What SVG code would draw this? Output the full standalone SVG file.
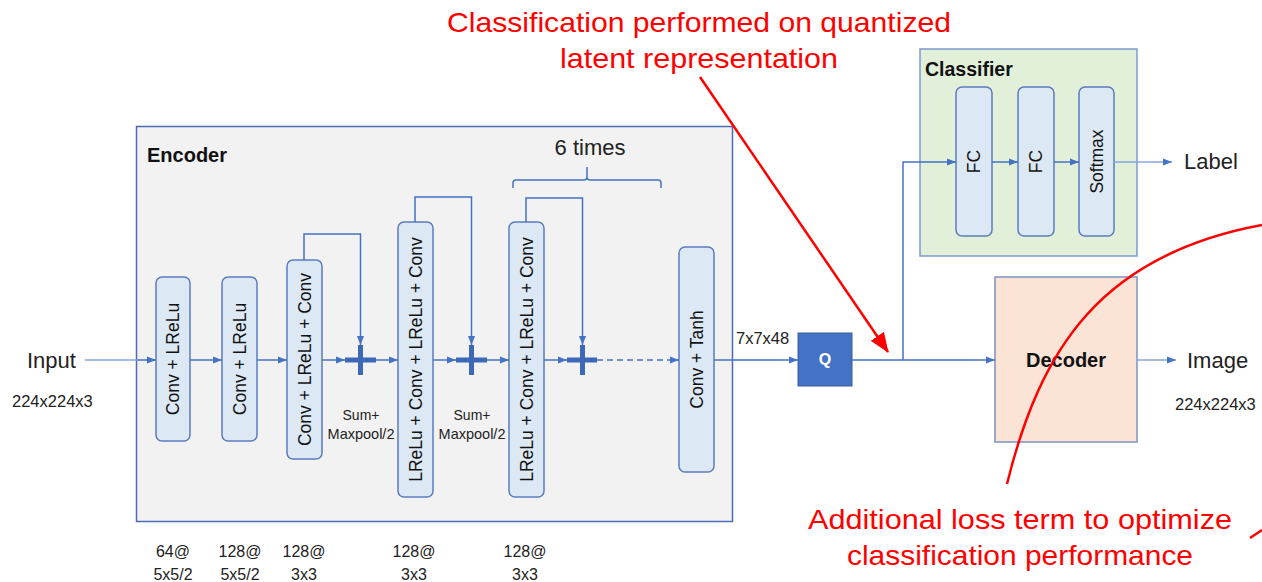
<svg xmlns="http://www.w3.org/2000/svg" width="1262" height="582" viewBox="0 0 1262 582">
  <style>
    .blk { fill: #dde8f5; stroke: #5b7cbf; stroke-width: 1.5; }
    .btxt { font-family: "Liberation Sans", Arial, sans-serif; font-size: 17.5px; fill: #111; text-anchor: middle; dominant-baseline: central; }
    .lbl { font-family: "Liberation Sans", Arial, sans-serif; fill: #222; }
    .bold { font-family: "Liberation Sans", Arial, sans-serif; font-weight: bold; fill: #111; }
    .red { font-family: "Liberation Sans", Arial, sans-serif; fill: #ff0000; font-size: 28px; text-anchor: middle; }
    .wire { fill: none; stroke: #4472c4; stroke-width: 1.5; }
    .wire-lt { fill: none; stroke: #86a6de; stroke-width: 1.5; }
    .plus { fill: #3d68b8; }
    .small { font-size: 16px; text-anchor: middle; }
  </style>
  <defs>
    <marker id="arr" markerUnits="userSpaceOnUse" markerWidth="9" markerHeight="8" refX="9" refY="4" orient="auto">
      <path d="M0,0.5 L9,4 L0,7.5 z" fill="#4472c4"/>
    </marker>
    <marker id="arr-red" markerUnits="userSpaceOnUse" markerWidth="20" markerHeight="16" refX="19" refY="8" orient="auto">
      <path d="M0,0 L20,8 L0,16 z" fill="#ff0000"/>
    </marker>
  </defs>

  <rect width="1262" height="582" fill="#ffffff"/>

  <!-- encoder container -->
  <g id="encoder">
    <rect x="136.5" y="126.5" width="596" height="395" fill="#f2f2f2" stroke="#4a6db4" stroke-width="1.5"/>
    <text class="bold" x="147" y="162" font-size="20">Encoder</text>
  </g>

  <!-- encoder blocks -->
  <g id="conv1">
    <rect class="blk" x="156" y="277" width="34" height="164" rx="6"/>
    <text class="btxt" transform="translate(173,359) rotate(-90)">Conv + LReLu</text>
  </g>
  <g id="conv2">
    <rect class="blk" x="222" y="277" width="35" height="164" rx="6"/>
    <text class="btxt" transform="translate(239.5,359) rotate(-90)">Conv + LReLu</text>
  </g>
  <g id="res1">
    <rect class="blk" x="287" y="260" width="35" height="199" rx="6"/>
    <text class="btxt" transform="translate(304.5,359.5) rotate(-90)">Conv + LReLu + Conv</text>
  </g>
  <g id="res2">
    <rect class="blk" x="398" y="222" width="35" height="275" rx="6"/>
    <text class="btxt" transform="translate(415.5,359.5) rotate(-90)">LReLu + Conv + LReLu + Conv</text>
  </g>
  <g id="res3">
    <rect class="blk" x="509" y="222" width="35" height="275" rx="6"/>
    <text class="btxt" transform="translate(526.5,359.5) rotate(-90)">LReLu + Conv + LReLu + Conv</text>
  </g>
  <g id="conv-tanh">
    <rect class="blk" x="679" y="247" width="35" height="225" rx="6"/>
    <text class="btxt" transform="translate(696.5,359.5) rotate(-90)">Conv + Tanh</text>
  </g>

  <!-- sum nodes -->
  <g id="sum1">
    <rect class="plus" x="345" y="357.5" width="31" height="5"/>
    <rect class="plus" x="358" y="345" width="5" height="30"/>
    <text class="lbl" x="361" y="420" font-size="14" text-anchor="middle">Sum+</text>
    <text class="lbl" x="361" y="439" font-size="14.5" text-anchor="middle">Maxpool/2</text>
  </g>
  <g id="sum2">
    <rect class="plus" x="456" y="357.5" width="31" height="5"/>
    <rect class="plus" x="469" y="345" width="5" height="30"/>
    <text class="lbl" x="472" y="420" font-size="14" text-anchor="middle">Sum+</text>
    <text class="lbl" x="472" y="439" font-size="14.5" text-anchor="middle">Maxpool/2</text>
  </g>
  <g id="sum3">
    <rect class="plus" x="567" y="357.5" width="30" height="5"/>
    <rect class="plus" x="580" y="345" width="5" height="30"/>
  </g>

  <!-- repeat brace -->
  <g id="repeat">
    <path d="M513,188 V183 Q513,180 516,180 H584 Q587,180 587,177 V167 M587,177 Q587,180 590,180 H658 Q661,180 661,183 V188" fill="none" stroke="#4472c4" stroke-width="1.5"/>
    <text class="lbl" x="590" y="155" font-size="22" text-anchor="middle">6 times</text>
  </g>

  <!-- quantizer -->
  <g id="quantizer">
    <rect x="798" y="333" width="54" height="53" fill="#4472c4" stroke="#3a5e9f" stroke-width="1"/>
    <text x="825" y="365" font-family="Liberation Sans, Arial, sans-serif" font-weight="bold" font-size="16" fill="#ffffff" text-anchor="middle">Q</text>
    <text class="lbl" x="736" y="344" font-size="16.5">7x7x48</text>
  </g>

  <!-- classifier -->
  <g id="classifier">
    <rect x="920" y="49" width="217" height="207" fill="#e2efd9" stroke="#7b9bd0" stroke-width="1.5"/>
    <text class="bold" x="925" y="76" font-size="19.5">Classifier</text>
  </g>
  <g id="fc1">
    <rect class="blk" x="956" y="87" width="36" height="149" rx="6"/>
    <text class="btxt" transform="translate(974,161.5) rotate(-90)">FC</text>
  </g>
  <g id="fc2">
    <rect class="blk" x="1018" y="87" width="36" height="149" rx="6"/>
    <text class="btxt" transform="translate(1036,161.5) rotate(-90)">FC</text>
  </g>
  <g id="softmax">
    <rect class="blk" x="1079" y="87" width="35" height="149" rx="6"/>
    <text class="btxt" transform="translate(1096.5,161.5) rotate(-90)">Softmax</text>
  </g>

  <!-- decoder -->
  <g id="decoder">
    <rect x="995" y="277" width="142" height="165" fill="#fbe4d5" stroke="#7b93c0" stroke-width="1.5"/>
    <text class="bold" x="1066" y="367" font-size="20" text-anchor="middle">Decoder</text>
  </g>

  <!-- inputs / outputs -->
  <g id="io">
    <text class="lbl" x="27" y="368" font-size="22">Input</text>
    <text class="lbl" x="12" y="407" font-size="16.5">224x224x3</text>
    <text class="lbl" x="1184" y="169" font-size="22">Label</text>
    <text class="lbl" x="1187" y="368" font-size="22">Image</text>
    <text class="lbl" x="1175" y="410" font-size="16.5">224x224x3</text>
  </g>

  <!-- layer parameters -->
  <g id="params" class="lbl">
    <text class="small" x="173" y="557">64@</text>
    <text class="small" x="173" y="580">5x5/2</text>
    <text class="small" x="240" y="557">128@</text>
    <text class="small" x="240" y="580">5x5/2</text>
    <text class="small" x="304" y="557">128@</text>
    <text class="small" x="304" y="580">3x3</text>
    <text class="small" x="414" y="557">128@</text>
    <text class="small" x="414" y="580">3x3</text>
    <text class="small" x="525" y="557">128@</text>
    <text class="small" x="525" y="580">3x3</text>
  </g>

  <!-- connectors -->
  <g id="connectors">
    <line class="wire-lt" x1="85" y1="360" x2="137" y2="360"/>
    <line class="wire" x1="137" y1="360" x2="156" y2="360" marker-end="url(#arr)"/>
    <line class="wire" x1="190" y1="360" x2="222" y2="360" marker-end="url(#arr)"/>
    <line class="wire" x1="257" y1="360" x2="287" y2="360" marker-end="url(#arr)"/>
    <line class="wire" x1="322" y1="360" x2="345" y2="360" marker-end="url(#arr)"/>
    <line class="wire" x1="376" y1="360" x2="398" y2="360" marker-end="url(#arr)"/>
    <line class="wire" x1="433" y1="360" x2="456" y2="360" marker-end="url(#arr)"/>
    <line class="wire" x1="487" y1="360" x2="509" y2="360" marker-end="url(#arr)"/>
    <line class="wire" x1="544" y1="360" x2="567" y2="360" marker-end="url(#arr)"/>
    <line class="wire" x1="597" y1="360" x2="679" y2="360" stroke-dasharray="6 4" marker-end="url(#arr)"/>
    <line class="wire" x1="714" y1="360" x2="798" y2="360" marker-end="url(#arr)"/>
    <line class="wire" x1="852" y1="360" x2="995" y2="360" marker-end="url(#arr)"/>
    <path class="wire" d="M903,360 V162 H956" marker-end="url(#arr)"/>
    <line class="wire" x1="992" y1="162" x2="1018" y2="162" marker-end="url(#arr)"/>
    <line class="wire" x1="1054" y1="162" x2="1079" y2="162" marker-end="url(#arr)"/>
    <line class="wire-lt" x1="1114" y1="162" x2="1172" y2="162" marker-end="url(#arr)"/>
    <line class="wire-lt" x1="1137" y1="360" x2="1176" y2="360" marker-end="url(#arr)"/>
    <!-- residual skips -->
    <path class="wire" d="M304,260 V234 H360.5 V345" marker-end="url(#arr)"/>
    <path class="wire" d="M415,222 V197 H471.5 V345" marker-end="url(#arr)"/>
    <path class="wire" d="M526,222 V198 H582.5 V345" marker-end="url(#arr)"/>
  </g>

  <!-- annotations -->
  <g id="annotations">
    <text class="red" x="699" y="32" textLength="504" lengthAdjust="spacingAndGlyphs">Classification performed on quantized</text>
    <text class="red" x="699" y="68" textLength="278" lengthAdjust="spacingAndGlyphs">latent representation</text>
    <line x1="700" y1="77" x2="888" y2="352" stroke="#ff0000" stroke-width="2.5" marker-end="url(#arr-red)"/>
    <path d="M1007,484 C1040,350 1100,255 1262,225" fill="none" stroke="#ff0000" stroke-width="2.5"/>
    <path d="M1250,538 L1262,530" fill="none" stroke="#ff0000" stroke-width="2.5"/>
    <text class="red" x="1020" y="529" textLength="424" lengthAdjust="spacingAndGlyphs">Additional loss term to optimize</text>
    <text class="red" x="1020" y="565" textLength="346" lengthAdjust="spacingAndGlyphs">classification performance</text>
  </g>
</svg>
